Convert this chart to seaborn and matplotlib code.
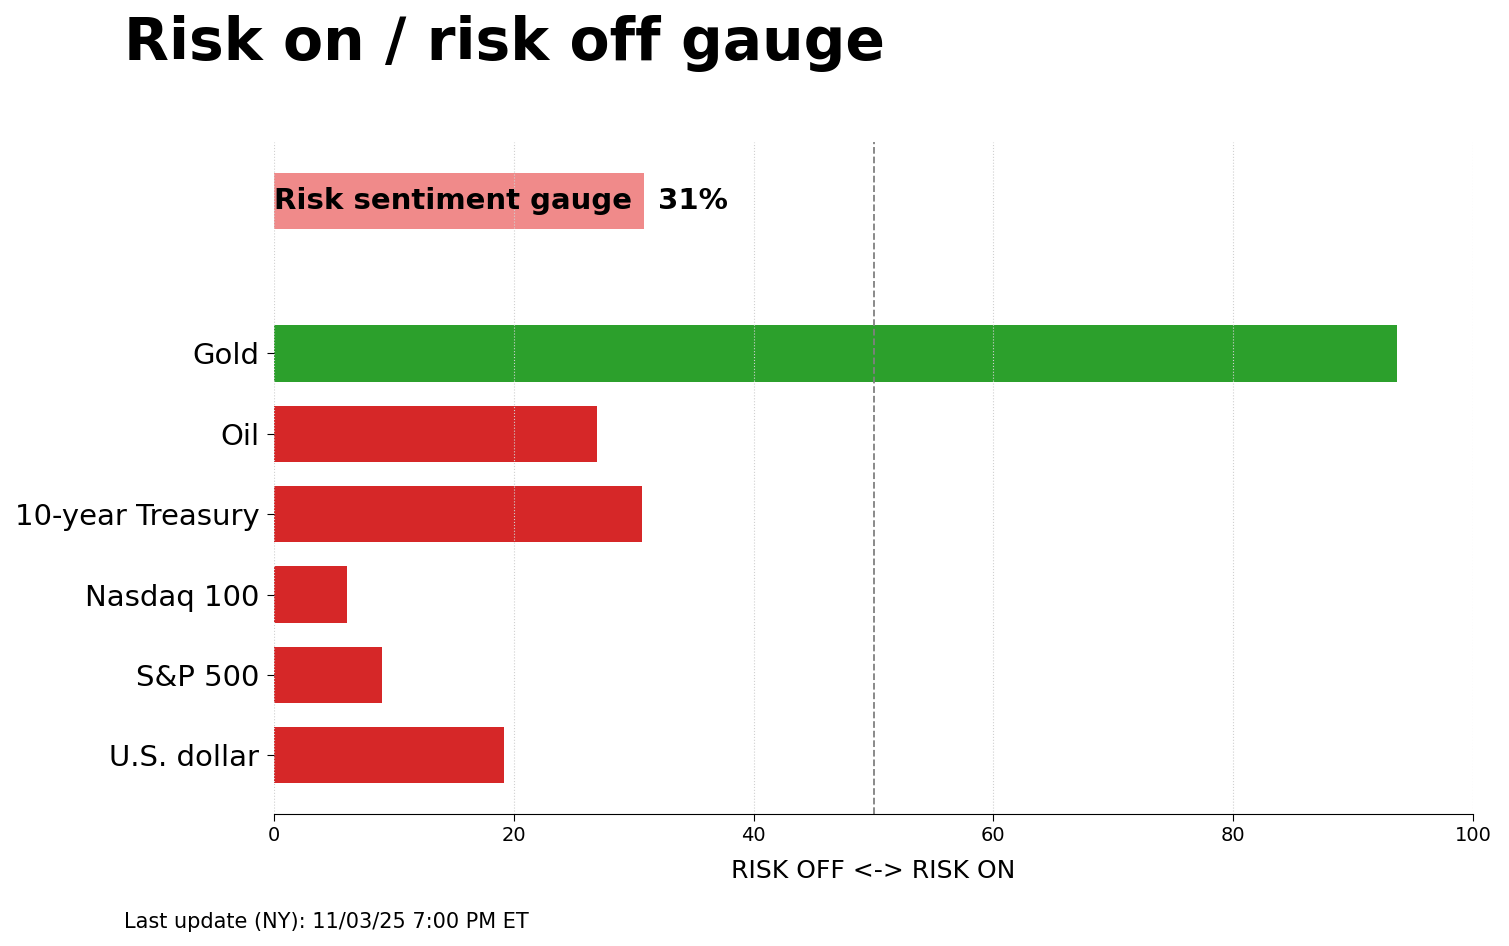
import pandas as pd
import matplotlib.pyplot as plt
import seaborn as sns

# Data
assets = ['U.S. dollar', 'S&P 500', 'Nasdaq 100', '10-year Treasury', 'Oil', 'Gold']
scores = [19.2, 9.0, 6.1, 30.7, 26.9, 93.7]
gauge_label = 'Risk sentiment gauge'
gauge_value = 30.9
title = 'Risk on / risk off gauge'
footer = 'Last update (NY): 11/03/25 7:00 PM ET'

plt.rcParams['font.family'] = ['DejaVu Sans']

# row positions: assets stacked, gauge row on top with a gap
positions = list(range(len(assets))) + [6.9]
names = assets + [gauge_label]
values = scores + [gauge_value]
colors = {a: ('#2ca02c' if s >= 50 else '#d62728') for a, s in zip(assets, scores)}
colors[gauge_label] = '#f08a8a'

df = pd.DataFrame({'name': names, 'value': values, 'pos': positions})

fig = plt.figure(figsize=(15.09, 9.46), dpi=100)
ax = fig.add_axes([274 / 1509, 1 - 814 / 946, (1473 - 274) / 1509, (814 - 142) / 946])

sns.barplot(data=df, x='value', y='pos', hue='name', palette=colors, orient='h',
            native_scale=True, width=0.7, legend=False, ax=ax, saturation=1,
            linewidth=0)

ax.set_xlim(0, 100)
ax.set_ylim(-0.73, 7.63)
ax.set_yticks(range(len(assets)))
ax.set_yticklabels(assets, fontsize=21)
ax.tick_params(axis='x', labelsize=14, length=5)
ax.tick_params(axis='y', length=5, pad=5.5)
ax.set_ylabel('')
ax.set_xlabel('RISK OFF <-> RISK ON', fontsize=18, labelpad=10)

ax.grid(axis='x', linestyle=':', color='#d0d0d0', linewidth=0.8)
ax.set_axisbelow(False)
ax.axvline(50, color='gray', linestyle='--', linewidth=1.3)

sns.despine(ax=ax, left=True)

# gauge annotations
ax.text(0, 6.9, gauge_label, va='center', ha='left', fontsize=21, fontweight='bold')
ax.text(gauge_value + 1.1, 6.9, f'{round(gauge_value)}%', va='center', ha='left',
        fontsize=21, fontweight='bold')

fig.text(124 / 1509, 1 - 60 / 946, title, fontsize=42, fontweight='bold', va='baseline')
fig.text(124 / 1509, 1 - 928 / 946, footer, fontsize=15, va='baseline')

fig.savefig('out.png', dpi=100)
